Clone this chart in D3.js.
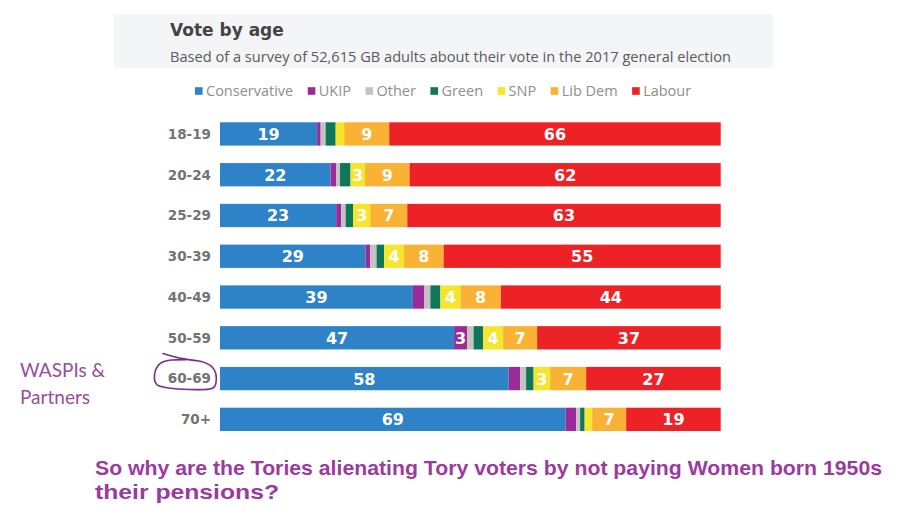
<!DOCTYPE html>
<html>
<head>
<meta charset="utf-8">
<script src="https://cdn.jsdelivr.net/npm/d3@7"></script>
<style>
  html, body { margin: 0; padding: 0; background: #ffffff; }
  svg { display: block; }
</style>
</head>
<body>
<svg id="chart" width="912" height="524"></svg>
<script>
// ---- data ----
const ages = ["18-19", "20-24", "25-29", "30-39", "40-49", "50-59", "60-69", "70+"];
const parties = ["Conservative", "UKIP", "Other", "Green", "SNP", "Lib Dem", "Labour"];
const conservative = [19.4, 22.1, 23.2, 29.1, 38.6, 46.8, 57.7, 69.1];
const ukip         = [0.7, 1.1, 1.0, 0.9, 2.3, 2.6, 2.3, 2.1];
const other        = [1.0, 0.8, 0.9, 1.3, 1.2, 1.3, 1.2, 0.8];
const green        = [2.0, 2.1, 1.5, 1.5, 2.0, 1.9, 1.5, 0.9];
const snp          = [1.7, 2.9, 3.4, 4.0, 4.0, 4.0, 3.3, 1.5];
const libdem       = [9.0, 8.9, 7.4, 7.9, 8.1, 6.8, 7.2, 6.8];
const labour       = [66.2, 62.2, 62.6, 55.4, 44.0, 36.7, 26.9, 18.9];

const titleText = "Vote by age";
const subtitleText = "Based of a survey of 52,615 GB adults about their vote in the 2017 general election";
const noteLines = ["WASPIs &", "Partners"];
const footerLines = ["So why are the Tories alienating Tory voters by not paying Women born 1950s", "their pensions?"];

// ---- build table ----
const seriesValues = [conservative, ukip, other, green, snp, libdem, labour];
const table = ages.map((a, i) => {
  const row = { age: a };
  parties.forEach((p, j) => { row[p] = seriesValues[j][i]; });
  return row;
});

const colors = d3.scaleOrdinal()
  .domain(parties)
  .range(["#2d82c8", "#9c2a98", "#c3c3c3", "#0e7659", "#f5e52b", "#f9b233", "#ec2227"]);

const svg = d3.select("#chart");

// ---- header panel ----
svg.append("rect")
  .attr("x", 114).attr("y", 14).attr("width", 659).attr("height", 54)
  .attr("fill", "#f4f5f7");

svg.append("text")
  .attr("x", 170).attr("y", 36)
  .attr("font-family", "DejaVu Sans").attr("font-weight", "bold")
  .attr("font-size", 17).attr("fill", "#444444")
  .text(titleText);

svg.append("text")
  .attr("x", 170).attr("y", 61.5)
  .attr("font-family", "Open Sans").attr("font-size", 14)
  .attr("fill", "#5a5a5a")
  .attr("textLength", 561).attr("lengthAdjust", "spacingAndGlyphs")
  .text(subtitleText);

// ---- legend ----
const legend = svg.append("g").attr("transform", "translate(195,91)");
let lx = 0;
parties.forEach(p => {
  const g = legend.append("g").attr("transform", `translate(${lx},0)`);
  g.append("rect").attr("x", 0).attr("y", -3.8).attr("width", 7.6).attr("height", 7.6)
    .attr("fill", colors(p));
  const t = g.append("text").attr("x", 11).attr("y", 5)
    .attr("font-family", "Open Sans").attr("font-size", 14.5)
    .attr("fill", "#8e8e8e").text(p);
  const w = t.node().getComputedTextLength();
  lx += 11 + w + 14.5;
});

// ---- scales ----
const x = d3.scaleLinear().domain([0, 1]).range([220, 720.7]);
const y = d3.scaleBand().domain(ages).range([122.3, 431]).paddingInner(0.4285).paddingOuter(0);

const stack = d3.stack().keys(parties).offset(d3.stackOffsetExpand);
const stacked = stack(table);

// ---- bars ----
const layers = svg.append("g").selectAll("g")
  .data(stacked).join("g")
  .attr("fill", d => colors(d.key));

layers.selectAll("rect")
  .data(d => d).join("rect")
  .attr("x", d => x(d[0]))
  .attr("y", d => y(d.data.age))
  .attr("width", d => x(d[1]) - x(d[0]))
  .attr("height", y.bandwidth());

// ---- value labels ----
const labelG = svg.append("g");
stacked.forEach(layer => {
  layer.forEach(d => {
    const v = Math.round(d.data[layer.key]);
    if (v >= 3) {
      labelG.append("text")
        .attr("x", (x(d[0]) + x(d[1])) / 2)
        .attr("y", y(d.data.age) + y.bandwidth() / 2 + 6)
        .attr("text-anchor", "middle")
        .attr("font-family", "DejaVu Sans").attr("font-weight", "bold")
        .attr("font-size", 16).attr("fill", "#ffffff")
        .text(v);
    }
  });
});

// ---- y axis labels ----
const yAxis = d3.axisLeft(y).tickSize(0).tickPadding(0);
const ax = svg.append("g").attr("transform", "translate(211,0)").call(yAxis);
ax.select(".domain").remove();
ax.selectAll("text")
  .attr("font-family", "DejaVu Sans").attr("font-weight", "bold")
  .attr("font-size", 13.5).attr("fill", "#737373")
  .attr("dy", "0.36em");

// ---- annotations ----
svg.append("text")
  .attr("font-family", "Lato").attr("font-size", 19).attr("fill", "#9a4c9d")
  .selectAll("tspan").data(noteLines).join("tspan")
  .attr("x", 20).attr("y", (d, i) => 377 + i * 26.5)
  .text(d => d);

// hand-drawn circle round 60-69
const cy = y("60-69") + y.bandwidth() / 2;
svg.append("path")
  .attr("d", `M163,${cy - 25} C172,${cy - 22} 182,${cy - 19} 196,${cy - 18}
              C212,${cy - 16} 218,${cy - 8} 216,${cy + 4}
              C215,${cy + 12} 208,${cy + 11} 196,${cy + 11}
              C180,${cy + 11} 166,${cy + 10} 158,${cy + 7}
              C152,${cy + 3} 154,${cy - 10} 160,${cy - 15}
              C166,${cy - 19} 176,${cy - 19} 186,${cy - 19}`)
  .attr("fill", "none").attr("stroke", "#7c2d8c").attr("stroke-width", 1.6)
  .attr("stroke-linecap", "round");

// footer question
const footerWidths = [787, 184];
svg.append("g").selectAll("text").data(footerLines).join("text")
  .attr("x", 95).attr("y", (d, i) => 475 + i * 24)
  .attr("font-family", "Liberation Sans").attr("font-weight", "bold")
  .attr("font-size", 21).attr("fill", "#9b3b9f")
  .attr("textLength", (d, i) => footerWidths[i]).attr("lengthAdjust", "spacingAndGlyphs")
  .text(d => d);
</script>
</body>
</html>
